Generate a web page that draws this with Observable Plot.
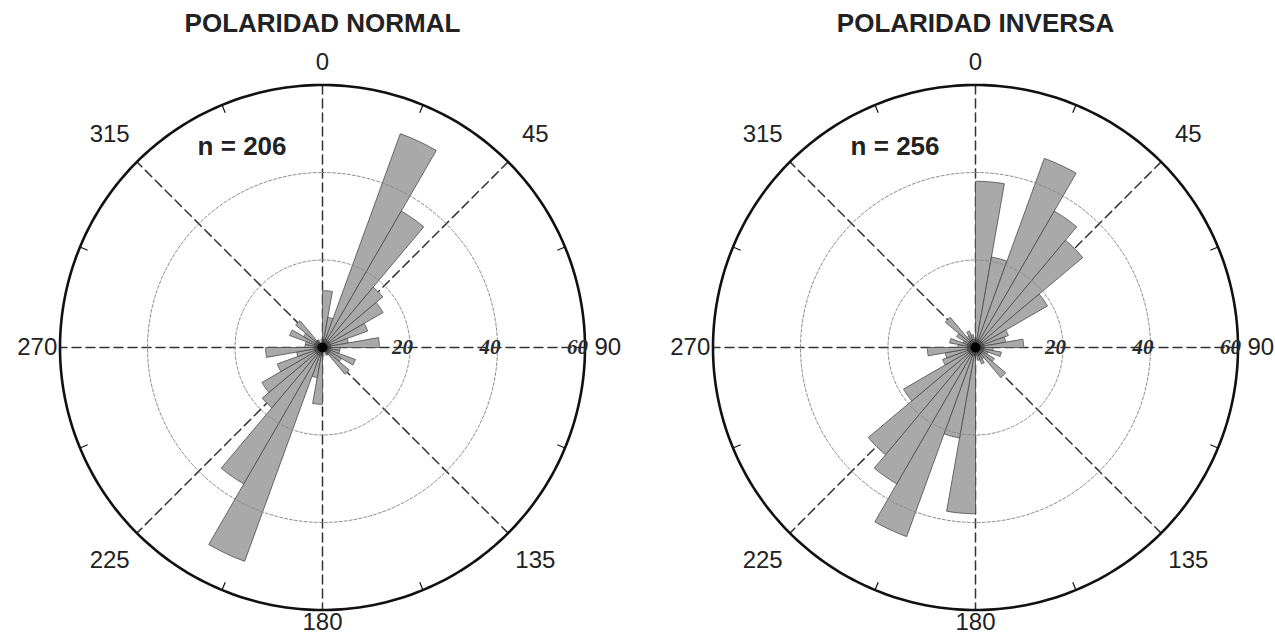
<!DOCTYPE html>
<html><head><meta charset="utf-8">
<script src="https://cdn.jsdelivr.net/npm/d3@7"></script>
<script src="https://cdn.jsdelivr.net/npm/@observablehq/plot@0.6"></script>
<style>
body{margin:0;background:#fff;width:1275px;height:636px;overflow:hidden;font-family:"Liberation Sans",Arial,sans-serif;}
</style></head>
<body><div id="chart"></div>
<script>
// ---- data ----
const titles = ["POLARIDAD NORMAL", "POLARIDAD INVERSA"];
const nLabels = ["n = 206", "n = 256"];
// bin start azimuths (degrees, 10° bins, 0–180; axial data mirrored to 180–360)
const binStarts = [0,10,20,30,40,50,60,70,80,90,100,110,120,130,140,150,160,170];
const normalCounts  = [13,7,52,36,18,16,11,6,13,4,4,8,5,8,2,1,1,1];
const inversaCounts = [38,21,46,36,32,19,8,7,11,4,6,3,5,9,3,4,3,1];
const angleTicks = [0,45,90,135,180,225,270,315];
const ringValues = [20,40,60];
const ringLabels = ["20","40","60"];

// ---- layout ----
const W = 1275, H = 636, PX = 87.5 / 20;   // px per count unit
const C0 = 322, CY = 347, C1 = 975;
const CX = [0, (C1 - C0) / PX];
const RMAX = 60;
const rad = d => d * Math.PI / 180;
const px = (cx, r, a) => cx + r * Math.sin(rad(a));
const py = (r, a) => r * Math.cos(rad(a));

const series = [normalCounts, inversaCounts];
const wedges = [], rings = [], outer = [], axes = [], ticks = [], angLab = [], radLab = [], centers = [], nText = [], titleText = [];
series.forEach((vals, ci) => {
  const cx = CX[ci];
  const full = binStarts.map((b, i) => ({a: b, v: vals[i]}))
    .concat(binStarts.map((b, i) => ({a: b + 180, v: vals[i]})));
  full.forEach(({a, v}) => {
    const id = ci + "-" + a;
    wedges.push({id, x: cx, y: 0});
    for (let t = 0; t <= 10; t++) wedges.push({id, x: px(cx, v, a + t), y: py(v, a + t)});
    wedges.push({id, x: cx, y: 0});
  });
  ringValues.forEach(r => {
    for (let a = 0; a <= 360; a += 1) {
      const p = {id: ci + "-" + r, x: px(cx, r, a), y: py(r, a)};
      (r === RMAX ? outer : rings).push(p);
    }
  });
  [0, 45, 90, 135].forEach(a => {
    axes.push({id: ci + "-" + a, x: px(cx, RMAX, a), y: py(RMAX, a)});
    axes.push({id: ci + "-" + a, x: px(cx, RMAX, a + 180), y: py(RMAX, a + 180)});
  });
  angleTicks.forEach(a => {
    const b = a + 22.5;
    ticks.push({x1: px(cx, RMAX - 1.9, b), y1: py(RMAX - 1.9, b), x2: px(cx, RMAX, b), y2: py(RMAX, b)});
    const R = a === 180 ? 62.9 : a % 90 === 0 ? 65.2 : 68.8;
    angLab.push({x: px(cx, R, a), y: py(R, a), text: String(a)});
  });
  ringValues.forEach((r, i) => radLab.push({x: cx + r, y: 0, text: ringLabels[i]}));
  centers.push({x: cx, y: 0});
  nText.push({x: px(cx, 49.5, -21.8), y: py(49.5, -21.8), text: nLabels[ci]});
  titleText.push({x: cx, text: titles[ci]});
});

const chart = Plot.plot({
  width: W, height: H,
  margin: 0,
  x: {domain: [-C0 / PX, (W - C0) / PX], axis: null},
  y: {domain: [-(H - CY) / PX, CY / PX], axis: null},
  marks: [
    Plot.line(axes, {x: "x", y: "y", z: "id", stroke: "#333", strokeWidth: 1.5, strokeDasharray: "9,5"}),
    Plot.line(wedges, {x: "x", y: "y", z: "id", fill: "#a9a9a9", stroke: "#4a4a4a", strokeWidth: 0.8, curve: "linear"}),
    Plot.line(rings, {x: "x", y: "y", z: "id", stroke: "#8a8a8a", strokeWidth: 1, strokeDasharray: "3,2"}),
    Plot.line(outer, {x: "x", y: "y", z: "id", stroke: "#111", strokeWidth: 2.6}),
    Plot.link(ticks, {x1: "x1", y1: "y1", x2: "x2", y2: "y2", stroke: "#111", strokeWidth: 1.2}),
    Plot.dot(centers, {x: "x", y: "y", r: 9, fill: "#000", fillOpacity: 0.25}),
    Plot.dot(centers, {x: "x", y: "y", r: 5, fill: "#000"}),
    Plot.text(radLab, {x: "x", y: "y", text: "text", textAnchor: "end", dx: 3, fontFamily: "Liberation Serif", fontStyle: "italic", fontWeight: "bold", fontSize: 21, fill: "#2a2a2a"}),
    Plot.text(angLab, {x: "x", y: "y", text: "text", fontFamily: "Liberation Sans", fontSize: 24, fill: "#222"}),
    Plot.text(nText, {x: "x", y: "y", text: "text", fontFamily: "Liberation Sans", fontWeight: "bold", fontSize: 26, fill: "#222"}),
    Plot.text(titleText, {x: "x", text: "text", frameAnchor: "top", dy: 13, fontFamily: "Liberation Sans", fontWeight: "bold", fontSize: 26, fill: "#222"})
  ]
});
document.getElementById("chart").appendChild(chart);
</script>
</body></html>
